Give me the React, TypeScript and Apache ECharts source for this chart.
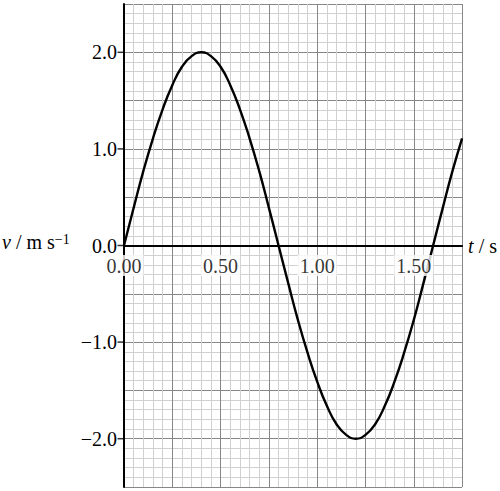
import { useEffect, useRef } from "react";
import * as echarts from "echarts";

// velocity every 0.05 s
const timeValues = [
  0, 0.05, 0.1, 0.15, 0.2, 0.25, 0.3, 0.35, 0.4, 0.45, 0.5, 0.55, 0.6, 0.65, 0.7, 0.75, 0.8, 0.85,
  0.9, 0.95, 1.0, 1.05, 1.1, 1.15, 1.2, 1.25, 1.3, 1.35, 1.4, 1.45, 1.5, 1.55, 1.6, 1.65, 1.7, 1.75,
];
const velocityValues = [
  0, 0.39, 0.77, 1.11, 1.41, 1.66, 1.85, 1.96, 2.0, 1.96, 1.85, 1.66, 1.41, 1.11, 0.77, 0.39, 0,
  -0.39, -0.77, -1.11, -1.41, -1.66, -1.85, -1.96, -2.0, -1.96, -1.85, -1.66, -1.41, -1.11, -0.77,
  -0.39, 0, 0.39, 0.77, 1.11,
];
const xLabelValues = [0, 0.5, 1.0, 1.5];
const yLabelValues = [-2, -1, 0, 1, 2];

const FONT = "Liberation Serif";

const fmtY = (v: number) => (v < 0 ? "\u2212" + Math.abs(v).toFixed(1) : v.toFixed(1));

const App = () => {
  const ref = useRef<HTMLDivElement>(null);

  useEffect(() => {
    document.body.style.margin = "0";
    if (!ref.current) return;
    const chart = echarts.init(ref.current, null, { renderer: "svg" });

    const minor = { color: "#d0d0d0", width: 1 };
    const major = { color: "#878787", width: 1 };

    chart.setOption({
      animation: false,
      backgroundColor: "#fff",
      grid: { left: 124, right: 37, top: 4, bottom: 4, containLabel: false },
      xAxis: {
        type: "value",
        min: 0,
        max: 1.75,
        interval: 0.25,
        name: "{i|t} / s",
        nameLocation: "end",
        nameGap: 6,
        nameTextStyle: {
          fontFamily: FONT,
          fontSize: 20,
          color: "#000",
          rich: { i: { fontFamily: FONT, fontSize: 20, fontStyle: "italic", color: "#000" } },
        },
        axisLine: { onZero: true, lineStyle: { color: "#000", width: 2 } },
        axisTick: { show: false },
        axisLabel: { show: false },
        splitLine: { show: true, lineStyle: major },
        minorTick: { show: false, splitNumber: 5 },
        minorSplitLine: { show: true, lineStyle: minor },
      },
      yAxis: {
        type: "value",
        min: -2.5,
        max: 2.5,
        interval: 0.5,
        axisLine: { show: true, onZero: false, lineStyle: { color: "#000", width: 2 } },
        axisTick: { show: false },
        axisLabel: {
          customValues: yLabelValues,
          formatter: fmtY,
          fontFamily: FONT,
          fontSize: 20,
          color: "#000",
          margin: 7,
        },
        splitLine: { show: true, lineStyle: major },
        minorTick: { show: false, splitNumber: 5 },
        minorSplitLine: { show: true, lineStyle: minor },
      },
      graphic: [
        {
          type: "text",
          left: 2,
          top: 232,
          style: {
            text: "{i|v} / m s{s|\u22121}",
            font: `20px ${FONT}`,
            fill: "#000",
            rich: {
              i: { fontFamily: FONT, fontSize: 20, fontStyle: "italic", fill: "#000" },
              s: { fontFamily: FONT, fontSize: 14, fill: "#000", verticalAlign: "top" },
            },
          },
        },
      ],
      series: [
        {
          type: "line",
          data: timeValues.map((t, i) => [t, velocityValues[i]]),
          smooth: true,
          showSymbol: false,
          clip: false,
          lineStyle: { color: "#000", width: 2.4 },
          z: 5,
        },
        {
          // short outward ticks on the velocity axis
          type: "scatter",
          data: yLabelValues.map((v) => [0, v]),
          symbol: "rect",
          symbolSize: [6, 1.5],
          symbolOffset: [-3.5, 0],
          itemStyle: { color: "#000" },
          clip: false,
          silent: true,
          z: 6,
        },
        {
          // tick labels of the time axis, sitting just under the zero line
          type: "scatter",
          data: xLabelValues.map((t) => [t, 0]),
          symbolSize: 1,
          itemStyle: { color: "rgba(0,0,0,0)" },
          silent: true,
          z: 6,
          label: {
            show: true,
            position: "bottom",
            distance: 9,
            formatter: (p: { value: number[] }) => p.value[0].toFixed(2),
            fontFamily: FONT,
            fontSize: 20,
            color: "#000",
            backgroundColor: "#fff",
            padding: [1, 2, 0, 2],
          },
        },
      ],
    });

    return () => chart.dispose();
  }, []);

  return <div ref={ref} style={{ width: 500, height: 491 }} />;
};

export default App;
